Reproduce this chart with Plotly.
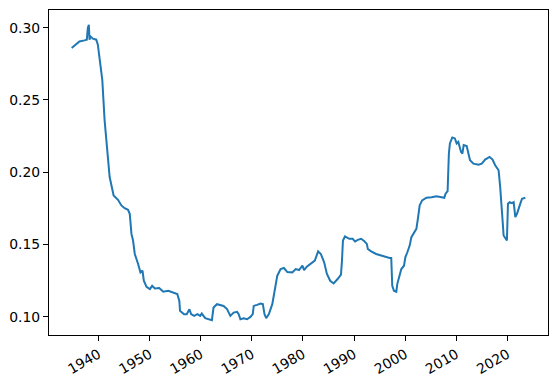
import plotly.graph_objects as go

years = [
    1934.74, 1936.26, 1937.24, 1937.70, 1937.90, 1938.10, 1938.23, 1938.40, 1938.90, 1939.55,
    1939.86, 1940.20, 1940.50, 1940.73, 1941.18, 1941.83, 1942.17, 1942.95, 1943.80, 1944.47,
    1945.10, 1945.77, 1946.10, 1946.20, 1946.44, 1946.75, 1947.09, 1947.74, 1948.20, 1948.60,
    1948.86, 1949.39, 1950.04, 1950.49, 1951.02, 1951.87, 1952.66, 1953.64, 1954.63, 1955.41,
    1955.81, 1955.94, 1956.73, 1957.26, 1957.78, 1958.11, 1958.70, 1959.35, 1959.88, 1960.20,
    1960.87, 1961.71, 1962.18, 1962.50, 1963.17, 1964.47, 1965.14, 1965.79, 1966.44, 1967.11,
    1967.42, 1967.76, 1968.41, 1969.07, 1969.72, 1970.18, 1970.37, 1971.04, 1971.69, 1972.15,
    1972.48, 1972.81, 1973.33, 1974.00, 1974.45, 1974.98, 1975.63, 1976.28, 1976.95, 1977.93,
    1978.58, 1979.23, 1979.90, 1980.22, 1980.75, 1981.54, 1982.32, 1982.97, 1983.50, 1984.15,
    1984.69, 1985.33, 1986.00, 1986.79, 1987.44, 1987.64, 1987.83, 1988.23, 1989.07, 1989.74,
    1990.20, 1990.73, 1991.38, 1992.03, 1992.50, 1992.70, 1993.35, 1994.33, 1995.31, 1996.30,
    1996.95, 1997.28, 1997.42, 1997.48, 1997.81, 1998.27, 1998.46, 1998.92, 1999.25, 1999.78,
    2000.04, 2000.43, 2000.89, 2001.22, 2001.75, 2002.20, 2002.54, 2002.85, 2003.33, 2004.17,
    2005.16, 2006.14, 2007.13, 2007.66, 2007.91, 2008.31, 2008.56, 2008.76, 2009.23, 2009.74,
    2010.08, 2010.41, 2010.93, 2011.20, 2011.46, 2012.05, 2012.38, 2012.70, 2013.37, 2014.35,
    2015.00, 2015.65, 2016.52, 2017.11, 2017.62, 2018.29, 2018.60, 2018.80, 2019.07, 2019.27,
    2019.59, 2019.92, 2020.12, 2020.45, 2020.91, 2021.24, 2021.56, 2021.89, 2022.54, 2022.87,
    2023.52,
]

values = [
    0.2859, 0.2905, 0.2912, 0.2917, 0.2998, 0.3020, 0.2917, 0.2940, 0.2924, 0.2917,
    0.2882, 0.2790, 0.2688, 0.2639, 0.2361, 0.2130, 0.1967, 0.1840, 0.1810, 0.1771,
    0.1752, 0.1741, 0.1713, 0.1674, 0.1574, 0.1528, 0.1435, 0.1366, 0.1308, 0.1320,
    0.1250, 0.1208, 0.1192, 0.1215, 0.1197, 0.1200, 0.1174, 0.1181, 0.1169, 0.1158,
    0.1111, 0.1042, 0.1019, 0.1019, 0.1053, 0.1019, 0.1007, 0.1019, 0.1007, 0.1023,
    0.0991, 0.0979, 0.0977, 0.1065, 0.1088, 0.1076, 0.1054, 0.1007, 0.1030, 0.1035,
    0.1019, 0.0984, 0.0991, 0.0984, 0.1000, 0.1019, 0.1076, 0.1083, 0.1092, 0.1088,
    0.1019, 0.0991, 0.1019, 0.1088, 0.1169, 0.1285, 0.1331, 0.1338, 0.1310, 0.1308,
    0.1331, 0.1324, 0.1354, 0.1324, 0.1347, 0.1366, 0.1389, 0.1453, 0.1435, 0.1377,
    0.1297, 0.1250, 0.1231, 0.1262, 0.1292, 0.1389, 0.1528, 0.1556, 0.1540, 0.1540,
    0.1521, 0.1533, 0.1540, 0.1523, 0.1505, 0.1470, 0.1453, 0.1435, 0.1424, 0.1417,
    0.1408, 0.1408, 0.1320, 0.1215, 0.1181, 0.1174, 0.1227, 0.1297, 0.1331, 0.1354,
    0.1412, 0.1447, 0.1493, 0.1551, 0.1585, 0.1609, 0.1690, 0.1771, 0.1806, 0.1824,
    0.1828, 0.1835, 0.1828, 0.1824, 0.1852, 0.1870, 0.2130, 0.2199, 0.2241, 0.2234,
    0.2199, 0.2210, 0.2141, 0.2130, 0.2188, 0.2181, 0.2130, 0.2083, 0.2060, 0.2053,
    0.2060, 0.2088, 0.2106, 0.2088, 0.2049, 0.2014, 0.1898, 0.1759, 0.1667, 0.1563,
    0.1540, 0.1528, 0.1783, 0.1794, 0.1787, 0.1794, 0.1690, 0.1713, 0.1783, 0.1817,
    0.1824,
]

x_ticks = [1940, 1950, 1960, 1970, 1980, 1990, 2000, 2010, 2020]
x_tick_labels = [str(t) for t in x_ticks]
y_ticks = [0.10, 0.15, 0.20, 0.25, 0.30]
y_tick_labels = ["0.10", "0.15", "0.20", "0.25", "0.30"]

fig = go.Figure(go.Scatter(x=years, y=values, mode="lines",
                           line=dict(color="#1f77b4", width=2)))

span_x = max(years) - min(years)
span_y = max(values) - min(values)
axis_common = dict(showline=True, linecolor="black", linewidth=1, mirror=True,
                   ticks="outside", ticklen=5, tickcolor="black", tickwidth=1,
                   showgrid=False, zeroline=False, automargin=False,
                   tickfont=dict(family="DejaVu Sans", size=13.9, color="black"))
fig.update_layout(
    width=556, height=385,
    margin=dict(l=49, r=8, t=10, b=50),
    paper_bgcolor="white", plot_bgcolor="white",
    showlegend=False,
    xaxis=dict(range=[min(years) - 0.05 * span_x, max(years) + 0.05 * span_x],
               tickvals=x_ticks, ticktext=x_tick_labels, tickangle=-30, **axis_common),
    yaxis=dict(range=[min(values) - 0.05 * span_y, max(values) + 0.05 * span_y],
               tickvals=y_ticks, ticktext=y_tick_labels, **axis_common),
)
fig.write_html("out.html", config={"displayModeBar": False},
               post_script="document.body.style.margin='0';document.body.style.overflow='hidden';")
